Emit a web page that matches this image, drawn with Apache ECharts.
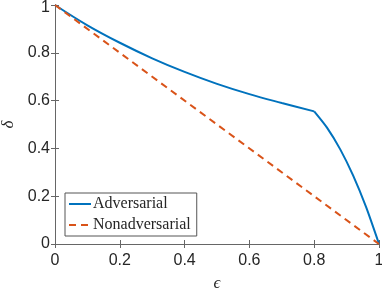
<!DOCTYPE html>
<html><head><meta charset="utf-8">
<script src="https://cdn.jsdelivr.net/npm/echarts@6/dist/echarts.min.js"></script>
<style>html,body{margin:0;padding:0;background:#fff}#c{width:382px;height:291px}</style>
</head><body><div id="c"></div>
<script>
const advEps1 = [0, 0.1, 0.2, 0.3, 0.4, 0.5, 0.6, 0.7, 0.8];
const advDelta1 = [1, 0.915, 0.842, 0.777, 0.720, 0.670, 0.627, 0.590, 0.555];
const advEps2 = [0.8, 0.84, 0.88, 0.92, 0.96, 1.0];
const advDelta2 = [0.555, 0.486, 0.397, 0.287, 0.155, 0];
const nonEps = [0, 1];
const nonDelta = [1, 0];
const axisColor = '#666';
const chart = echarts.init(document.getElementById('c'), null, {renderer: 'canvas'});
const fmt = v => (v === 0 ? '0' : v === 1 ? '1' : String(Math.round(v * 10) / 10));
const fmtY = v => (v === 1 ? '{t|1}' : fmt(v));
const baseAxis = {
  type: 'value', min: 0, max: 1, interval: 0.2,
  axisLine: {show: true, lineStyle: {color: axisColor, width: 1}},
  axisTick: {show: true, inside: true, length: 4, lineStyle: {color: axisColor}},
  splitLine: {show: false}
};
const blue = '#0072BD', orange = '#D95319';
chart.setOption({
  animation: false,
  grid: {left: 55, right: 3, top: 5, bottom: 47, containLabel: false, outerBoundsMode: 'none'},
  xAxis: [
    Object.assign({}, baseAxis, {
      position: 'bottom',
      axisLabel: {formatter: fmt, fontFamily: 'Liberation Sans', fontSize: 16, color: '#262626', margin: 9},
      name: 'ϵ', nameLocation: 'middle', nameGap: 31, nameMoveOverlap: false,
      nameTextStyle: {fontFamily: 'Liberation Serif', fontStyle: 'italic', fontSize: 17, color: '#262626'}
    }),
    Object.assign({}, baseAxis, {position: 'top', axisLabel: {show: false}})
  ],
  yAxis: [
    Object.assign({}, baseAxis, {
      position: 'left',
      axisLabel: {formatter: fmtY, fontFamily: 'Liberation Sans', fontSize: 16, color: '#262626', margin: 5,
        rich: {t: {fontFamily: 'Liberation Sans', fontSize: 16, color: '#262626', padding: [6, 0, 0, 0]}}},
      name: 'δ', nameLocation: 'middle', nameGap: 38, nameRotate: 90, nameMoveOverlap: false,
      nameTextStyle: {fontFamily: 'Liberation Serif', fontStyle: 'italic', fontSize: 17, color: '#262626'}
    }),
    Object.assign({}, baseAxis, {position: 'right', axisLabel: {show: false}})
  ],
  legend: {
    orient: 'vertical', left: 65, top: 193,
    padding: [3, 6, 3, 3], itemGap: 5, itemWidth: 22, itemHeight: 15,
    borderColor: '#555', borderWidth: 1, backgroundColor: '#fff',
    itemStyle: {opacity: 0},
    textStyle: {fontFamily: 'Liberation Serif', fontSize: 16, color: '#262626', padding: [0, 0, 0, -3]},
    data: ['Adversarial', 'Nonadversarial']
  },
  series: [
    {name: 'Adversarial', type: 'line', showSymbol: false, symbol: 'none', smooth: 0.4,
     data: advEps1.map((e, i) => [e, advDelta1[i]]),
     lineStyle: {color: blue, width: 2}, itemStyle: {color: blue}},
    {name: 'Adversarial', type: 'line', showSymbol: false, symbol: 'none', smooth: 0.25,
     data: advEps2.map((e, i) => [e, advDelta2[i]]),
     lineStyle: {color: blue, width: 2}, itemStyle: {color: blue}},
    {name: 'Nonadversarial', type: 'line', showSymbol: false, symbol: 'none',
     data: nonEps.map((e, i) => [e, nonDelta[i]]),
     lineStyle: {color: orange, width: 2, type: [7, 5]}, itemStyle: {color: orange}}
  ]
});
</script></body></html>
